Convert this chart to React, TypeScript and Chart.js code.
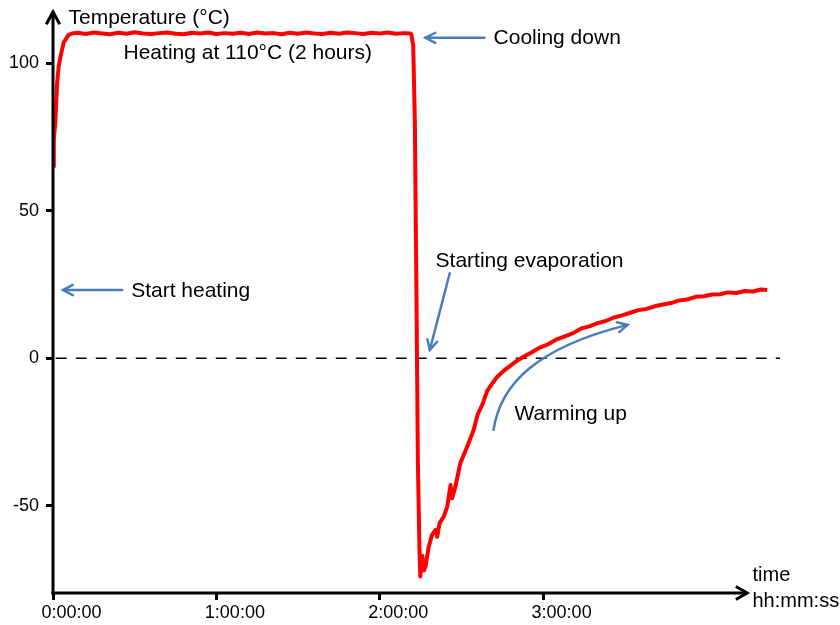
import { useEffect, useRef } from "react";
import { Chart, registerables } from "chart.js";

Chart.register(...registerables);

// ---- data (time in minutes, temperature in °C) ----
const timeMinutes = [
  0, 0.3, 0.85, 1.5, 2.1, 2.7, 3.9, 5.7, 7.5,
  9, 12, 15, 18, 21, 24, 27, 30, 33, 36, 39, 42, 45, 48, 51, 54, 57, 60,
  63, 66, 69, 72, 75, 78, 81, 84, 87, 90, 93, 96, 99, 102, 105, 108, 111,
  114, 117, 120, 123, 126, 129, 131.3, 131.6, 132.3, 132.9, 133.5, 134.0,
  134.6, 134.9, 135.6, 136.2, 136.8, 138.0, 139.2, 140.5, 141.1, 142.0,
  143.5, 144.8, 146.0, 146.6, 147.8, 149.6, 152.1, 154.5, 156.0, 157.8,
  159.5, 161.3, 163.1, 165.5, 168.0, 170.5, 173.0, 176.0, 179.0, 182.0,
  185.0, 188.0, 191.0, 194.0, 197.0, 200.0, 203.0, 206.0, 209.0, 212.0,
  215.0, 218.0, 221.0, 224.0, 227.0, 230.0, 233.0, 236.0, 239.0, 242.0,
  245.0, 248.0, 251.0, 254.0, 257.0, 260.0, 262.3,
];
const temperatureC = [
  65, 74, 80, 93, 99, 102, 107, 109.6, 110.2,
  110.3, 109.9, 110.4, 110.1, 109.8, 110.3, 110.0, 110.5, 110.1, 109.9,
  110.2, 110.4, 110.0, 109.8, 110.3, 110.1, 110.4, 109.9, 110.2, 110.0,
  110.3, 109.9, 110.4, 110.1, 110.2, 109.8, 110.3, 110.0, 110.4, 110.1,
  109.9, 110.3, 110.0, 110.4, 110.2, 109.9, 110.3, 110.1, 110.4, 110.0,
  110.2, 110.1, 109.8, 106, 80, 20, -35,
  -65, -74, -67, -72, -70.6, -63.9, -59.9, -58.2, -60.5, -55.9,
  -53.7, -50.3, -43, -47.5, -43.5, -35.6, -30, -24.3, -19.0, -15.5,
  -11.0, -8.6, -6.4, -4.3, -2.5, -0.8, 0.6, 2.1, 3.7, 4.8,
  6.4, 7.4, 8.5, 10.1, 10.8, 11.9, 12.6, 13.8, 14.5, 15.4,
  16.3, 16.7, 17.6, 18.2, 18.7, 19.6, 19.9, 20.8, 21.0, 21.6,
  21.7, 22.3, 22.1, 22.8, 22.6, 23.3, 23.1,
];

const xTickMinutes = [0, 60, 120, 180];
const yTickValues = [-50, 0, 50, 100];

const X_MIN = 0;
const X_MAX = 267;
const Y_MIN = -79.6;
const Y_MAX = 117.7;
const X_AXIS_END = 255.3;
const zeroLineX = [1, 267];

const FONT = "'Liberation Sans', Arial, sans-serif";

const textNotes = [
  { text: "Temperature (°C)", x: 5.7, y: 113.4, size: 21 },
  { text: "Heating at 110°C (2 hours)", x: 25.9, y: 101.5, size: 21 },
  { text: "Cooling down", x: 161.8, y: 106.6, size: 21 },
  { text: "Start heating", x: 28.7, y: 20.8, size: 21 },
  { text: "Starting evaporation", x: 140.5, y: 31.0, size: 21 },
  { text: "Warming up", x: 169.5, y: -20.9, size: 21 },
  { text: "time", x: 256.9, y: -75.7, size: 20 },
  { text: "hh:mm:ss", x: 256.9, y: -84.2, size: 20 },
];

const straightArrows = [
  { from: [158.5, 108.6], to: [136.8, 108.6] },
  { from: [25.4, 23.1], to: [3.7, 23.1] },
  { from: [145.7, 28.8], to: [138.4, 2.8] },
];
const curvedArrow = {
  start: [161.8, -24.3],
  c1: [164.3, -9.0],
  c2: [177.2, 3.5],
  end: [211.0, 11.3],
};

function fmtTime(m: number) {
  return `${Math.round(m / 60)}:00:00`;
}

function drawHead(
  ctx: CanvasRenderingContext2D,
  tx: number,
  ty: number,
  angle: number,
  len: number,
  spread: number
) {
  ctx.beginPath();
  ctx.moveTo(tx - len * Math.cos(angle - spread), ty - len * Math.sin(angle - spread));
  ctx.lineTo(tx, ty);
  ctx.lineTo(tx - len * Math.cos(angle + spread), ty - len * Math.sin(angle + spread));
  ctx.stroke();
}

const overlayPlugin = {
  id: "overlay",
  afterDatasetsDraw(chart: any) {
    const ctx: CanvasRenderingContext2D = chart.ctx;
    const xs = chart.scales.x;
    const ys = chart.scales.y;
    const px = (v: number) => xs.getPixelForValue(v);
    const py = (v: number) => ys.getPixelForValue(v);
    ctx.save();

    // axes with arrows
    ctx.strokeStyle = "#000";
    ctx.lineWidth = 3;
    ctx.lineCap = "butt";
    ctx.lineJoin = "miter";
    const ox = px(X_MIN);
    const oy = py(Y_MIN);
    const topY = py(Y_MAX);
    const endX = px(X_AXIS_END);
    ctx.beginPath();
    ctx.moveTo(ox, oy + 1.5);
    ctx.lineTo(ox, topY + 1);
    ctx.stroke();
    ctx.beginPath();
    ctx.moveTo(ox - 1.5, oy);
    ctx.lineTo(endX - 1, oy);
    ctx.stroke();
    drawHead(ctx, ox, topY + 1, -Math.PI / 2, 14, 0.5);
    drawHead(ctx, endX - 1, oy, 0, 13, 0.52);

    // blue arrows
    ctx.strokeStyle = "#4A7EBB";
    ctx.lineWidth = 2.5;
    ctx.lineCap = "round";
    for (const a of straightArrows) {
      const x1 = px(a.from[0]);
      const y1 = py(a.from[1]);
      const x2 = px(a.to[0]);
      const y2 = py(a.to[1]);
      ctx.beginPath();
      ctx.moveTo(x1, y1);
      ctx.lineTo(x2, y2);
      ctx.stroke();
      drawHead(ctx, x2, y2, Math.atan2(y2 - y1, x2 - x1), 11, 0.48);
    }
    {
      const s = [px(curvedArrow.start[0]), py(curvedArrow.start[1])];
      const c1 = [px(curvedArrow.c1[0]), py(curvedArrow.c1[1])];
      const c2 = [px(curvedArrow.c2[0]), py(curvedArrow.c2[1])];
      const e = [px(curvedArrow.end[0]), py(curvedArrow.end[1])];
      ctx.beginPath();
      ctx.moveTo(s[0], s[1]);
      ctx.bezierCurveTo(c1[0], c1[1], c2[0], c2[1], e[0], e[1]);
      ctx.stroke();
      drawHead(ctx, e[0], e[1], Math.atan2(e[1] - c2[1], e[0] - c2[0]), 11, 0.48);
    }

    // texts
    ctx.fillStyle = "#000";
    ctx.textAlign = "left";
    ctx.textBaseline = "alphabetic";
    for (const n of textNotes) {
      ctx.font = `${n.size}px ${FONT}`;
      ctx.fillText(n.text, px(n.x), py(n.y));
    }
    ctx.restore();
  },
};

export default function App() {
  const canvasRef = useRef<HTMLCanvasElement | null>(null);

  useEffect(() => {
    if (!canvasRef.current) return;
    const chart = new Chart(canvasRef.current, {
      type: "line",
      data: {
        datasets: [
          {
            label: "Temperature",
            data: timeMinutes.map((t, i) => ({ x: t, y: temperatureC[i] })),
            borderColor: "#FF0000",
            borderWidth: 4,
            pointRadius: 0,
            tension: 0,
            fill: false,
            borderJoinStyle: "round",
          },
          {
            label: "Zero",
            data: zeroLineX.map((t) => ({ x: t, y: 0 })),
            borderColor: "#000",
            borderWidth: 1.5,
            borderDash: [11, 9],
            pointRadius: 0,
            fill: false,
          },
        ],
      },
      options: {
        responsive: false,
        maintainAspectRatio: false,
        animation: false,
        layout: { padding: { top: 11, right: 60, left: 0, bottom: 0 } },
        plugins: {
          legend: { display: false },
          tooltip: { enabled: false },
        },
        scales: {
          x: {
            type: "linear",
            min: X_MIN,
            max: X_MAX,
            afterBuildTicks: (scale: any) => {
              scale.ticks = xTickMinutes.map((v) => ({ value: v }));
            },
            afterFit: (scale: any) => {
              scale.height = 32;
              scale.paddingLeft = 0;
              scale.paddingRight = 0;
            },
            grid: {
              display: true,
              drawOnChartArea: false,
              drawTicks: true,
              tickLength: 7,
              color: "#000",
              lineWidth: 3,
            },
            border: { display: false },
            ticks: {
              autoSkip: false,
              maxRotation: 0,
              padding: 2,
              labelOffset: 18.5,
              color: "#000",
              font: { size: 18, family: FONT },
              callback: (v: any) => fmtTime(Number(v)),
            },
          },
          y: {
            type: "linear",
            min: Y_MIN,
            max: Y_MAX,
            afterBuildTicks: (scale: any) => {
              scale.ticks = yTickValues.map((v) => ({ value: v }));
            },
            afterFit: (scale: any) => {
              scale.width = 53;
              scale.paddingTop = 0;
              scale.paddingBottom = 0;
            },
            grid: {
              display: true,
              drawOnChartArea: false,
              drawTicks: true,
              tickLength: 7,
              color: "#000",
              lineWidth: 3,
            },
            border: { display: false },
            ticks: {
              padding: 7,
              color: "#000",
              font: { size: 18, family: FONT },
              callback: (v: any) => String(v),
            },
          },
        },
      },
      plugins: [overlayPlugin],
    } as any);
    return () => chart.destroy();
  }, []);

  return (
    <div style={{ position: "absolute", left: 0, top: 0, width: 840, height: 625, background: "#fff" }}>
      <canvas ref={canvasRef} width={840} height={625} style={{ display: "block" }} />
    </div>
  );
}
